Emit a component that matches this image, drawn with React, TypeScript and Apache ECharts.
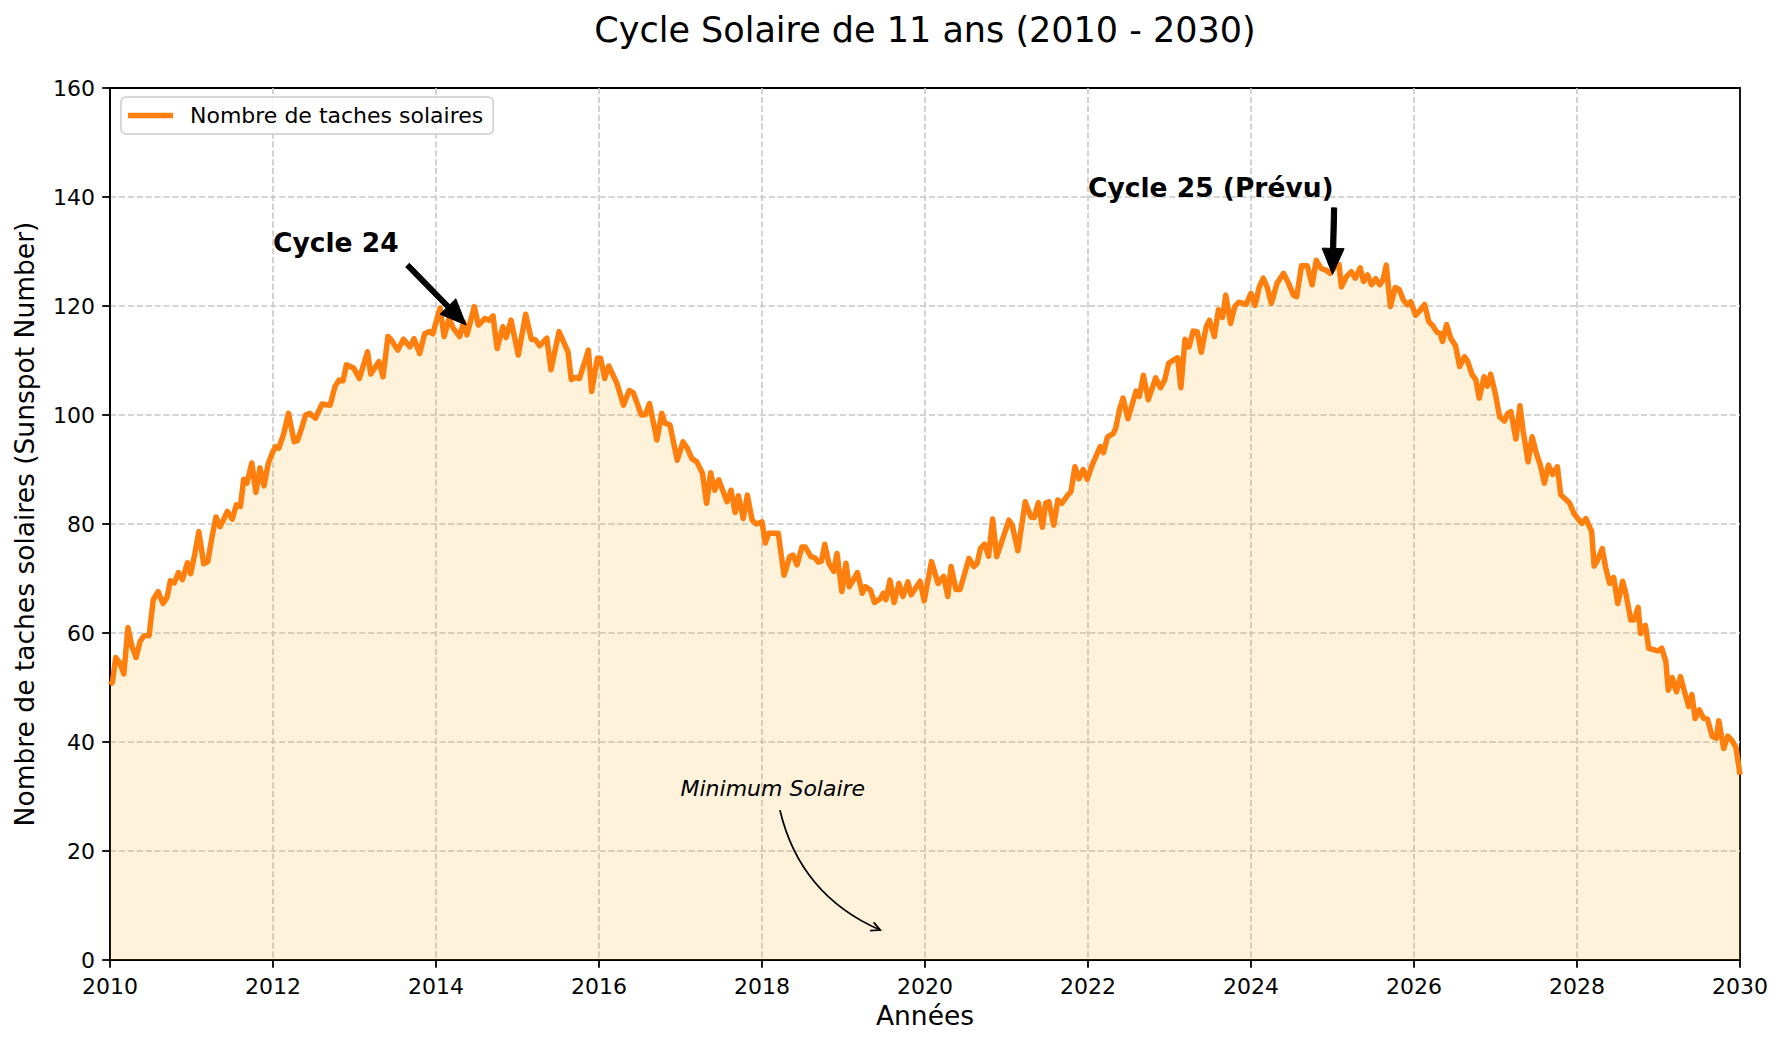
import React, { useEffect, useRef } from "react";
import * as echarts from "echarts";

const FONT = "DejaVu Sans, Verdana, sans-serif";
const TITLE = "Cycle Solaire de 11 ans (2010 - 2030)";
const SERIES_NAME = "Nombre de taches solaires";
const X_NAME = "Années";
const Y_NAME = "Nombre de taches solaires (Sunspot Number)";
const X_MIN = 2010;
const X_MAX = 2030;
const X_STEP = 2;
const Y_MIN = 0;
const Y_MAX = 160;
const Y_STEP = 20;

// [year, sunspot number]
const rise2010: [number, number][] = [
  [2010.0, 50.5], [2010.03, 51], [2010.07, 55.5], [2010.12, 54.5], [2010.17, 52.5],
  [2010.22, 61], [2010.27, 57.5], [2010.32, 55.5], [2010.37, 58.5], [2010.42, 59.5],
  [2010.48, 59.5], [2010.53, 66.1], [2010.59, 67.6], [2010.65, 65.4], [2010.7, 66.5],
  [2010.74, 69.6], [2010.79, 69.2], [2010.84, 71.1], [2010.89, 69.8], [2010.95, 72.9],
  [2010.99, 70.9], [2011.04, 74.5], [2011.09, 78.6], [2011.15, 72.7], [2011.2, 73.1],
  [2011.25, 77.5], [2011.3, 81.3], [2011.35, 79.5], [2011.4, 81], [2011.44, 82.3],
  [2011.5, 80.9], [2011.55, 83.5], [2011.6, 83.2], [2011.64, 88.2], [2011.68, 87.5],
  [2011.74, 91.2], [2011.79, 85.8], [2011.84, 90.3], [2011.89, 87], [2011.94, 91],
  [2011.99, 93], [2012.03, 94.2],
];
const rise2012: [number, number][] = [
  [2012.07, 93.9], [2012.13, 96.5], [2012.19, 100.3], [2012.26, 95.1], [2012.3, 95.3],
  [2012.35, 97.5], [2012.4, 100], [2012.45, 100.3], [2012.52, 99.4], [2012.6, 102],
  [2012.7, 101.8], [2012.76, 105.2], [2012.81, 106.4], [2012.86, 106.3], [2012.9, 109.2],
  [2012.99, 108.6], [2013.06, 106.7], [2013.16, 111.6], [2013.2, 107.5], [2013.3, 109.8],
  [2013.35, 107], [2013.41, 114.4], [2013.45, 113.8], [2013.53, 111.9], [2013.6, 113.9],
  [2013.68, 112.5], [2013.73, 114], [2013.8, 111.3], [2013.86, 114.9], [2013.92, 115.3],
  [2013.96, 114.9],
];
const peak24: [number, number][] = [
  [2014.05, 119.6], [2014.1, 114.4], [2014.16, 117.7], [2014.21, 116], [2014.29, 114.4],
  [2014.34, 117.1], [2014.38, 114.7], [2014.47, 119.9], [2014.52, 116.5], [2014.6, 117.7],
  [2014.65, 117.4], [2014.7, 118.2], [2014.75, 112.2], [2014.82, 116.2], [2014.86, 114.2],
  [2014.92, 117.4], [2015.01, 111], [2015.1, 118.5], [2015.17, 113.9],
];
const decline2015: [number, number][] = [
  [2015.22, 113.8], [2015.27, 112.7], [2015.36, 114.1], [2015.41, 108.3], [2015.51, 115.3],
  [2015.62, 111.6], [2015.66, 106.5], [2015.71, 106.9], [2015.76, 106.7], [2015.87, 111.9],
  [2015.91, 104.3], [2015.98, 110.4], [2016.02, 110.4], [2016.07, 106.7], [2016.12, 109],
  [2016.22, 105.8], [2016.3, 101.8], [2016.37, 104.5], [2016.42, 104.1], [2016.52, 100],
  [2016.57, 100.1], [2016.62, 102.1], [2016.71, 95.4], [2016.77, 100.3], [2016.81, 98.5],
  [2016.87, 98.2], [2016.96, 91.7],
];
const decline2017: [number, number][] = [
  [2017.03, 95.1], [2017.08, 94], [2017.14, 92], [2017.2, 91.4], [2017.27, 89.3],
  [2017.32, 83.8], [2017.37, 89.4], [2017.42, 86.2], [2017.47, 88.1], [2017.57, 84.1],
  [2017.62, 86.2], [2017.67, 82.1], [2017.71, 85.2], [2017.77, 81], [2017.82, 85.3],
  [2017.88, 80.7], [2017.93, 80], [2018.0, 80.4], [2018.04, 76.5], [2018.08, 78.3],
  [2018.14, 78.3],
];
const minimum2019: [number, number][] = [
  [2018.2, 78.3], [2018.27, 70.6], [2018.34, 74], [2018.38, 74.3], [2018.43, 72.5],
  [2018.49, 75.8], [2018.53, 75.8], [2018.6, 74], [2018.65, 73.8], [2018.69, 73],
  [2018.73, 73.2], [2018.77, 76.3], [2018.82, 72.8], [2018.88, 71.3], [2018.92, 74.6],
  [2018.98, 67.6], [2019.03, 72.8], [2019.07, 68.5], [2019.12, 69.7], [2019.17, 71.1],
  [2019.23, 67.3], [2019.27, 68.5], [2019.33, 67.9], [2019.38, 65.6], [2019.45, 66.3],
  [2019.49, 67.3], [2019.52, 66.1], [2019.57, 69.7], [2019.62, 65.6], [2019.68, 69.1],
  [2019.73, 66.7], [2019.79, 69.4], [2019.83, 67], [2019.94, 69.5], [2019.99, 65.9],
  [2020.08, 73.1], [2020.16, 69.1],
];
const rise2020: [number, number][] = [
  [2020.23, 70.4], [2020.28, 66.7], [2020.32, 72.2], [2020.38, 68], [2020.43, 68],
  [2020.54, 73.7], [2020.6, 72.2], [2020.64, 72.8], [2020.68, 75.5], [2020.73, 76.3],
  [2020.78, 74.1], [2020.83, 80.9], [2020.88, 74], [2020.96, 77.6], [2021.03, 80.7],
  [2021.07, 79.8], [2021.14, 75.1], [2021.23, 84.1], [2021.3, 81.3], [2021.34, 81.2],
  [2021.39, 83.9], [2021.44, 79.4], [2021.48, 83.8], [2021.52, 84.1], [2021.58, 79.8],
  [2021.63, 84.4], [2021.68, 83.8], [2021.75, 85.3], [2021.79, 85.9], [2021.84, 90.5],
  [2021.89, 88.3], [2021.94, 90], [2021.99, 88.2], [2022.05, 90.8], [2022.1, 92.5],
  [2022.15, 94.2], [2022.19, 93.1],
];
const rise2022: [number, number][] = [
  [2022.24, 96], [2022.31, 96.6], [2022.34, 97.6], [2022.39, 101.2], [2022.43, 103.1],
  [2022.49, 99.3], [2022.59, 104.4], [2022.63, 103.4], [2022.68, 107.3], [2022.74, 102.8],
  [2022.83, 106.8], [2022.89, 105], [2022.94, 106.4], [2022.99, 109.5], [2023.05, 110.1],
  [2023.1, 110.5], [2023.14, 105], [2023.19, 113.9], [2023.24, 112.5], [2023.29, 115.4],
  [2023.34, 115.3], [2023.39, 111.5], [2023.45, 116.2], [2023.49, 117.4], [2023.55, 114.4],
  [2023.6, 119.3], [2023.65, 117.9], [2023.69, 122], [2023.75, 116.8], [2023.8, 119.9],
  [2023.85, 120.7], [2023.9, 120.5], [2023.94, 120.3], [2024.0, 122.3], [2024.05, 120.1],
  [2024.1, 123.4], [2024.15, 125.1],
];
const peak25: [number, number][] = [
  [2024.2, 123.4], [2024.25, 120.5], [2024.32, 124.2], [2024.4, 126], [2024.46, 124.2],
  [2024.52, 122], [2024.56, 121.7], [2024.62, 127.4], [2024.69, 127.4], [2024.75, 123.9],
  [2024.8, 128.4], [2024.86, 126.9], [2024.92, 126.6], [2024.97, 126], [2025.03, 127.2],
  [2025.08, 127.6], [2025.11, 123.5], [2025.17, 125.4], [2025.23, 126.3], [2025.28, 125.1],
  [2025.34, 127], [2025.38, 124.5], [2025.43, 125.7], [2025.48, 123.9], [2025.53, 125],
  [2025.58, 123.9], [2025.62, 124.8], [2025.66, 127.5], [2025.71, 119.9], [2025.77, 123.4],
  [2025.82, 123], [2025.87, 121.1], [2025.92, 120.2], [2025.96, 120.8], [2026.02, 118.3],
  [2026.08, 119.3], [2026.13, 120.3],
];
const decline2026: [number, number][] = [
  [2026.18, 117.2], [2026.23, 116.4], [2026.28, 115.2], [2026.32, 115], [2026.35, 113.5],
  [2026.4, 116.6], [2026.45, 114.1], [2026.51, 112.7], [2026.56, 108.9], [2026.62, 110.7],
  [2026.66, 109.8], [2026.71, 107.5], [2026.76, 106.4], [2026.8, 103.1], [2026.86, 107],
  [2026.9, 105.3], [2026.94, 107.5], [2027.0, 103.8], [2027.05, 99.7], [2027.11, 98.9],
  [2027.15, 100.3], [2027.19, 100.6], [2027.25, 95.6], [2027.3, 101.7], [2027.34, 97],
  [2027.4, 91.4], [2027.45, 96], [2027.5, 93], [2027.55, 90.8], [2027.6, 87.5],
  [2027.65, 90.8], [2027.7, 89.1], [2027.76, 90.5], [2027.8, 85.4], [2027.85, 84.7],
  [2027.91, 83.8], [2027.96, 82], [2028.02, 80.8], [2028.06, 80.1], [2028.11, 81],
];
const decline2028: [number, number][] = [
  [2028.18, 78.6], [2028.21, 72.3], [2028.25, 73.3], [2028.31, 75.5], [2028.35, 72.1],
  [2028.4, 69.1], [2028.45, 70.2], [2028.5, 65.4], [2028.56, 69.5], [2028.6, 67.2],
  [2028.66, 62.4], [2028.7, 62.4], [2028.75, 64.7], [2028.78, 59.9], [2028.84, 61.4],
  [2028.88, 57.2], [2028.95, 56.9], [2028.99, 56.7], [2029.04, 57.2], [2029.09, 54.8],
  [2029.12, 49.5], [2029.17, 51.8], [2029.22, 49.2], [2029.27, 52], [2029.32, 49.2],
  [2029.37, 46.5], [2029.41, 48.7], [2029.45, 44.3], [2029.5, 45.9], [2029.55, 44.4],
  [2029.6, 44.2], [2029.66, 41], [2029.71, 40.7], [2029.74, 43.9], [2029.8, 38.8],
  [2029.85, 41.1], [2029.9, 40.3], [2029.95, 39], [2030.0, 34],
];

// Annotations in data coordinates
const cycle24Label = { text: "Cycle 24", at: [2012, 130] };
const cycle24Arrow = { from: [2013.65, 127.5], to: [2014.37, 116.5] };
const cycle25Label = { text: "Cycle 25 (Prévu)", at: [2022, 140] };
const cycle25Arrow = { from: [2025.02, 138], to: [2025.0, 125.8] };
const minimumLabel = { text: "Minimum Solaire", at: [2017, 30] };
const minimumArrow = { from: [2018.22, 27.5], to: [2019.45, 5.5], rad: 0.25 };

const LINE_COLOR = "#ff7f0e";
const FILL_COLOR = "rgba(255,165,0,0.21)";
const GRID_COLOR = "#c8c8c8";

function filledArrow(S: number[], E: number[]) {
  const dx = E[0] - S[0];
  const dy = E[1] - S[1];
  const len = Math.hypot(dx, dy);
  const ux = dx / len, uy = dy / len;
  const nx = -uy, ny = ux;
  const w = 2.6, hw = 11, hl = 26;
  const bx = E[0] - ux * hl, by = E[1] - uy * hl;
  const points = [
    [S[0] + nx * w, S[1] + ny * w],
    [bx + nx * w, by + ny * w],
    [bx + nx * hw, by + ny * hw],
    [E[0], E[1]],
    [bx - nx * hw, by - ny * hw],
    [bx - nx * w, by - ny * w],
    [S[0] - nx * w, S[1] - ny * w],
  ];
  return { type: "polygon", z: 100, shape: { points }, style: { fill: "#000", stroke: "#000", lineWidth: 1 } };
}

function curvedArrow(S: number[], E: number[], rad: number) {
  const mx = (S[0] + E[0]) / 2, my = (S[1] + E[1]) / 2;
  const dx = E[0] - S[0], dy = E[1] - S[1];
  const cx = mx - rad * dy, cy = my + rad * dx;
  const tx = E[0] - cx, ty = E[1] - cy;
  const tl = Math.hypot(tx, ty);
  const ux = tx / tl, uy = ty / tl;
  const nx = -uy, ny = ux;
  const hl = 9, hw = 4.5;
  return [
    {
      type: "bezierCurve", z: 100,
      shape: { x1: S[0], y1: S[1], x2: E[0], y2: E[1], cpx1: cx, cpy1: cy },
      style: { stroke: "#000", lineWidth: 1.8, fill: "none" },
    },
    {
      type: "polyline", z: 100,
      shape: { points: [[E[0] - ux * hl + nx * hw, E[1] - uy * hl + ny * hw], [E[0], E[1]], [E[0] - ux * hl - nx * hw, E[1] - uy * hl - ny * hw]] },
      style: { stroke: "#000", lineWidth: 1.8, fill: "none" },
    },
  ];
}

function label(p: number[], text: string, size: number, weight: string, style: string) {
  return {
    type: "text", z: 100, x: p[0], y: p[1] - 0.35 * size,
    style: { text, fontSize: size, fontWeight: weight, fontStyle: style, fontFamily: FONT, fill: "#000", align: "left", verticalAlign: "middle" },
  };
}

export default function App() {
  const ref = useRef<HTMLDivElement>(null);
  useEffect(() => {
    if (!ref.current) return;
    const chart = echarts.init(ref.current, undefined, { renderer: "svg" });
    const data = [
      ...rise2010, ...rise2012, ...peak24, ...decline2015, ...decline2017, ...minimum2019,
      ...rise2020, ...rise2022, ...peak25, ...decline2026, ...decline2028,
    ];
    const axisText = { color: "#000", fontFamily: FONT, fontSize: 22 };
    const splitLine = {
      show: true, showMinLine: false, showMaxLine: false,
      lineStyle: { color: GRID_COLOR, width: 1.6, type: [6.2, 2.7] },
    };
    chart.setOption({
      animation: false,
      title: {
        text: TITLE, left: 925, top: 12, textAlign: "center", padding: 0,
        textStyle: { color: "#000", fontFamily: FONT, fontSize: 35, fontWeight: "normal" },
      },
      legend: {
        left: 121, top: 97, orient: "horizontal",
        data: [{ name: SERIES_NAME, icon: "rect" }],
        itemWidth: 45, itemHeight: 5.5, itemGap: 0,
        padding: [6, 10, 6, 7],
        backgroundColor: "rgba(255,255,255,0.8)", borderColor: "#cccccc", borderWidth: 1.5, borderRadius: 5,
        itemStyle: { color: LINE_COLOR },
        textStyle: { color: "#000", fontFamily: FONT, fontSize: 22, lineHeight: 25, padding: [0, 0, 0, 12] },
      },
      grid: {
        left: 110, right: 1786 - 1740, top: 88, bottom: 1047 - 960,
        show: true, borderColor: "#000", borderWidth: 1.8, backgroundColor: "transparent",
      },
      xAxis: {
        type: "value", min: X_MIN, max: X_MAX, interval: X_STEP,
        name: X_NAME, nameLocation: "middle", nameGap: 41,
        nameTextStyle: { color: "#000", fontFamily: FONT, fontSize: 26.5 },
        axisLine: { show: true, lineStyle: { color: "#000", width: 1.8 } },
        axisTick: { show: true, inside: false, length: 7.8, lineStyle: { color: "#000", width: 1.8 } },
        axisLabel: { ...axisText, margin: 15, formatter: (v: number) => String(v) },
        splitLine,
      },
      yAxis: {
        type: "value", min: Y_MIN, max: Y_MAX, interval: Y_STEP,
        name: Y_NAME, nameLocation: "middle", nameGap: 72,
        nameTextStyle: { color: "#000", fontFamily: FONT, fontSize: 26.5 },
        axisLine: { show: true, lineStyle: { color: "#000", width: 1.8 } },
        axisTick: { show: true, inside: false, length: 7.8, lineStyle: { color: "#000", width: 1.8 } },
        axisLabel: { ...axisText, margin: 15, formatter: (v: number) => String(v) },
        splitLine,
      },
      series: [
        {
          name: SERIES_NAME, type: "line", data, showSymbol: false, smooth: false,
          itemStyle: { color: LINE_COLOR },
          lineStyle: { color: LINE_COLOR, width: 5.5, join: "round", cap: "butt" },
          areaStyle: { color: FILL_COLOR, origin: "start" },
          z: 3,
        },
      ],
    });

    const px = (p: number[]) => chart.convertToPixel({ xAxisIndex: 0, yAxisIndex: 0 }, p) as number[];
    const graphic: any[] = [
      label(px(cycle24Label.at), cycle24Label.text, 26.5, "bold", "normal"),
      filledArrow(px(cycle24Arrow.from), px(cycle24Arrow.to)),
      label(px(cycle25Label.at), cycle25Label.text, 26.5, "bold", "normal"),
      filledArrow(px(cycle25Arrow.from), px(cycle25Arrow.to)),
      label(px(minimumLabel.at), minimumLabel.text, 22, "normal", "italic"),
      ...curvedArrow(px(minimumArrow.from), px(minimumArrow.to), minimumArrow.rad),
      // top and right spines drawn above the grid lines
    ];
    chart.setOption({ graphic });
    return () => chart.dispose();
  }, []);
  return <div ref={ref} style={{ position: "absolute", left: 0, top: 0, width: 1786, height: 1047 }} />;
}
